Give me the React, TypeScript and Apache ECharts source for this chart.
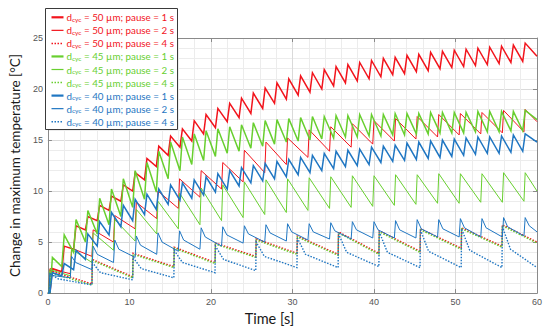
import React, { useEffect, useRef } from "react";
import * as echarts from "echarts";

// ---- cycle start times (s) ----
const tPause1 = [0.25, 1.7, 3.15, 4.6, 6.05, 7.5, 8.95, 10.4, 11.85, 13.3, 14.75, 16.2, 17.65, 19.1, 20.55, 22.0, 23.45, 24.9, 26.35, 27.8, 29.25, 30.7, 32.15, 33.6, 35.05, 36.5, 37.95, 39.4, 40.85, 42.3, 43.75, 45.2, 46.65, 48.1, 49.55, 51.0, 52.45, 53.9, 55.35, 56.8, 58.25];
const tPause2 = [0.1, 2.75, 5.4, 8.05, 10.7, 13.35, 16.0, 18.65, 21.3, 23.95, 26.6, 29.25, 31.9, 34.55, 37.2, 39.85, 42.5, 45.15, 47.8, 50.45, 53.1, 55.75, 58.4];
const tPause4 = [0.2, 5.4, 10.4, 15.45, 20.5, 25.5, 30.55, 35.6, 40.6, 45.65, 50.7, 55.7];
const tEnd = 60;

// ---- d_cyc = 50 µm ----
const r1Peak = [2.4, 4.6, 6.6, 7.5, 8.6, 9.5, 10.6, 11.8, 13.2, 14.4, 15.4, 16.1, 16.9, 17.5, 18.1, 18.6, 19.1, 19.6, 20.1, 20.6, 21.0, 21.3, 21.6, 21.9, 22.2, 22.4, 22.6, 22.8, 23.0, 23.1, 23.3, 23.4, 23.6, 23.7, 23.8, 23.9, 24.0, 24.1, 24.2, 24.3, 24.5];
const r1Trough = [2.1, 4.3, 6.2, 7.1, 8.1, 9.0, 10.0, 11.1, 12.4, 13.5, 14.3, 14.9, 15.6, 16.2, 16.8, 17.2, 17.6, 18.1, 18.6, 19.0, 19.4, 19.7, 20.0, 20.3, 20.6, 20.8, 21.0, 21.2, 21.4, 21.5, 21.7, 21.8, 22.0, 22.1, 22.2, 22.3, 22.4, 22.5, 22.6, 22.7, 23.2];
const r2Peak = [2.4, 4.4, 6.2, 7.6, 8.9, 10.0, 11.2, 12.0, 12.8, 14.0, 14.8, 15.2, 16.0, 16.3, 16.6, 16.9, 17.1, 17.3, 17.5, 17.6, 17.7, 17.9, 18.0];
const r2Trough = [1.9, 3.6, 5.0, 6.3, 7.3, 8.3, 9.4, 10.2, 10.9, 11.8, 12.6, 13.3, 13.9, 14.3, 14.6, 14.9, 15.1, 15.3, 15.5, 15.6, 15.7, 15.8, 16.8];
const r4Peak = [2.2, 3.3, 3.9, 4.5, 4.9, 5.3, 5.6, 6.0, 6.1, 6.3, 6.4, 6.7];
const r4Trough = [0.9, 1.6, 2.6, 3.0, 3.6, 3.9, 3.8, 3.9, 4.1, 4.4, 4.6, 5.0];

// ---- d_cyc = 45 µm ----
const g1Peak = [3.5, 5.7, 7.2, 8.1, 9.3, 10.2, 11.2, 12.0, 12.8, 13.9, 14.8, 15.3, 15.6, 15.9, 16.1, 16.3, 16.5, 16.7, 16.9, 17.0, 17.1, 17.2, 17.3, 17.3, 17.4, 17.4, 17.5, 17.5, 17.5, 17.6, 17.6, 17.6, 17.7, 17.7, 17.7, 17.7, 17.8, 17.8, 17.8, 17.8, 17.9];
const g1Trough = [2.6, 4.0, 5.0, 5.8, 6.7, 7.5, 8.4, 9.2, 9.9, 11.2, 12.0, 12.6, 13.0, 13.4, 13.7, 13.9, 14.2, 14.4, 14.6, 14.8, 14.9, 15.0, 15.1, 15.2, 15.3, 15.3, 15.4, 15.4, 15.5, 15.5, 15.6, 15.6, 15.7, 15.7, 15.7, 15.8, 15.8, 15.8, 15.9, 15.9, 17.0];
const g2Peak = [2.3, 4.3, 5.9, 7.2, 8.2, 9.0, 9.8, 10.3, 10.6, 10.9, 11.1, 11.2, 11.3, 11.4, 11.5, 11.5, 11.6, 11.6, 11.7, 11.7, 11.7, 11.8, 11.8];
const g2Trough = [1.7, 3.0, 4.2, 5.1, 5.8, 6.3, 6.7, 7.1, 7.4, 7.7, 7.9, 8.1, 8.3, 8.4, 8.5, 8.6, 8.7, 8.8, 8.8, 8.9, 8.9, 9.0, 10.0];
const g4Peak = [2.0, 3.2, 3.8, 4.4, 4.8, 5.2, 5.5, 5.9, 6.0, 6.2, 6.3, 6.6];
const g4Trough = [0.8, 1.5, 2.5, 2.9, 3.5, 3.8, 3.7, 3.8, 4.0, 4.3, 4.5, 4.9];

// ---- d_cyc = 40 µm ----
const b1Peak = [2.0, 2.9, 4.2, 5.8, 7.0, 7.9, 8.6, 9.2, 9.7, 10.2, 10.6, 10.8, 11.1, 11.4, 11.7, 12.0, 12.3, 12.5, 12.7, 12.9, 13.1, 13.3, 13.5, 13.7, 13.9, 14.0, 14.1, 14.3, 14.4, 14.5, 14.7, 14.8, 14.9, 15.0, 15.1, 15.2, 15.3, 15.3, 15.4, 15.5, 15.6];
const b1Trough = [1.7, 2.3, 3.3, 4.6, 5.7, 6.5, 7.1, 7.7, 8.2, 8.7, 9.1, 9.3, 9.6, 9.9, 10.2, 10.5, 10.8, 11.0, 11.2, 11.4, 11.6, 11.8, 12.0, 12.2, 12.4, 12.5, 12.6, 12.8, 12.9, 13.0, 13.1, 13.2, 13.3, 13.4, 13.5, 13.6, 13.7, 13.7, 13.8, 13.9, 14.8];
const b2Peak = [1.9, 3.6, 4.6, 5.2, 5.6, 5.9, 6.1, 6.4, 6.5, 6.6, 6.7, 6.8, 6.8, 6.9, 7.0, 7.0, 7.1, 7.2, 7.2, 7.3, 7.3, 7.4, 7.4];
const b2Knee = [1.7, 3.0, 3.8, 4.3, 4.7, 5.0, 5.2, 5.5, 5.7, 5.8, 5.9, 6.0, 6.0, 6.1, 6.2, 6.2, 6.2, 6.3, 6.3, 6.4, 6.4, 6.5, 6.6];
const b2Trough = [1.5, 2.3, 3.0, 3.5, 3.8, 4.1, 4.3, 4.6, 4.9, 5.0, 5.1, 5.2, 5.3, 5.3, 5.4, 5.4, 5.4, 5.5, 5.5, 5.5, 5.5, 5.6, 6.0];
const b4Peak = [1.9, 3.0, 3.5, 4.2, 4.6, 5.0, 5.4, 5.8, 6.0, 6.2, 6.3, 6.5];
const b4Knee = [1.4, 2.0, 2.4, 3.0, 3.3, 3.6, 3.8, 4.0, 4.0, 4.1, 4.2, 4.3];
const b4Trough = [0.8, 1.3, 1.5, 2.0, 2.2, 2.5, 2.5, 2.6, 2.5, 2.5, 2.5, 2.5];

const xTicks = [0, 10, 20, 30, 40, 50, 60];
const yTicks = [0, 5, 10, 15, 20, 25];

const RED = "#f2141c";
const GREEN = "#68cf2f";
const BLUE = "#1f76c2";

type Spec = {
  dcyc: number;
  pause: number;
  color: string;
  times: number[];
  peaks: number[];
  troughs: number[];
  knees?: number[];
};

const specs: Spec[] = [
  { dcyc: 50, pause: 1, color: RED, times: tPause1, peaks: r1Peak, troughs: r1Trough },
  { dcyc: 50, pause: 2, color: RED, times: tPause2, peaks: r2Peak, troughs: r2Trough },
  { dcyc: 50, pause: 4, color: RED, times: tPause4, peaks: r4Peak, troughs: r4Trough },
  { dcyc: 45, pause: 1, color: GREEN, times: tPause1, peaks: g1Peak, troughs: g1Trough },
  { dcyc: 45, pause: 2, color: GREEN, times: tPause2, peaks: g2Peak, troughs: g2Trough },
  { dcyc: 45, pause: 4, color: GREEN, times: tPause4, peaks: g4Peak, troughs: g4Trough },
  { dcyc: 40, pause: 1, color: BLUE, times: tPause1, peaks: b1Peak, troughs: b1Trough },
  { dcyc: 40, pause: 2, color: BLUE, times: tPause2, peaks: b2Peak, troughs: b2Trough, knees: b2Knee },
  { dcyc: 40, pause: 4, color: BLUE, times: tPause4, peaks: b4Peak, troughs: b4Trough, knees: b4Knee },
];

// style by pause duration
const riseByPause: Record<number, number> = { 1: 0.3, 2: 0.15, 4: 0.05 };
const kneeDtByPause: Record<number, number> = { 1: 0.3, 2: 0.5, 4: 1.0 };
const widthByPause: Record<number, number> = { 1: 1.5, 2: 1.0, 4: 1.4 };
const legendWidthByPause: Record<number, number> = { 1: 2.2, 2: 1.2, 4: 1.5 };

function buildPoints(s: Spec): number[][] {
  const pts: number[][] = [[0, 0]];
  const rise = riseByPause[s.pause];
  for (let i = 0; i < s.times.length; i++) {
    const start = s.times[i];
    const end = i + 1 < s.times.length ? s.times[i + 1] : tEnd;
    if (i === 0) pts.push([start, 0]);
    pts.push([start + rise, s.peaks[i]]);
    if (s.knees) pts.push([start + rise + kneeDtByPause[s.pause], s.knees[i]]);
    pts.push([end, s.troughs[i]]);
  }
  return pts;
}

const seriesName = (s: Spec) => `d_cyc = ${s.dcyc} µm; pause = ${s.pause} s`;

export default function App() {
  const ref = useRef<HTMLDivElement>(null);
  useEffect(() => {
    if (!ref.current) return;
    const chart = echarts.init(ref.current, null, { renderer: "svg" });
    const left = 42;
    const right = 13;
    const top = 38;
    const bottom = 32;
    const axisColor = "#8a8a8a";
    const labelStyle = { color: "#555", fontSize: 9, fontFamily: "Liberation Sans" };

    const series: any[] = specs.map((s) => ({
      name: seriesName(s),
      type: "line",
      data: buildPoints(s),
      showSymbol: false,
      symbol: "none",
      silent: true,
      clip: true,
      z: 2,
      xAxisIndex: 0,
      yAxisIndex: 0,
      lineStyle: {
        color: s.color,
        width: widthByPause[s.pause],
        type: s.pause === 4 ? [1.5, 1.5] : "solid",
        cap: "butt",
        join: "miter",
      },
      itemStyle: { color: s.color },
    }));

    // legend drawn as graphic elements
    const lgX = 45.5;
    const lgY = 8.5;
    const rowH = 13.05;
    const legendChildren: any[] = [
      {
        type: "rect",
        z: 100,
        shape: { x: lgX, y: lgY, width: 132, height: 121 },
        style: { fill: "#fff", stroke: "#3a3a3a", lineWidth: 1 },
      },
    ];
    specs.forEach((s, i) => {
      const cy = 17.3 + i * rowH;
      legendChildren.push({
        type: "line",
        z: 101,
        shape: { x1: 51.5, y1: cy, x2: 63.5, y2: cy },
        style: {
          stroke: s.color,
          lineWidth: legendWidthByPause[s.pause],
          lineDash: s.pause === 4 ? [1.5, 1.5] : null,
        },
      });
      legendChildren.push({
        type: "text",
        z: 101,
        x: 66.5,
        y: cy,
        style: {
          text: `{d|d}{s|cyc}{t| = ${s.dcyc} µm; pause = ${s.pause} s}`,
          verticalAlign: "middle",
          fill: s.color,
          rich: {
            d: { fontSize: 9.8, fontFamily: "Lato", fill: s.color, lineHeight: 11 },
            s: { fontSize: 6.5, fontFamily: "Lato", fill: s.color, lineHeight: 5.5, verticalAlign: "bottom" },
            t: { fontSize: 9.8, fontFamily: "Lato", fill: s.color, lineHeight: 11 },
          },
        },
      });
    });

    const baseX = {
      type: "value",
      min: xTicks[0],
      max: xTicks[xTicks.length - 1],
      interval: 10,
      axisLine: { show: true, onZero: false, lineStyle: { color: axisColor, width: 1 } },
      axisTick: { show: true, inside: true, length: 4, lineStyle: { color: axisColor } },
    };
    const baseY = {
      type: "value",
      min: yTicks[0],
      max: yTicks[yTicks.length - 1],
      interval: 5,
      axisLine: { show: true, onZero: false, lineStyle: { color: axisColor, width: 1 } },
      axisTick: { show: true, inside: true, length: 4, lineStyle: { color: axisColor } },
    };

    chart.setOption({
      animation: false,
      backgroundColor: "#fff",
      grid: { left, right, top, bottom, containLabel: false },
      xAxis: [
        {
          ...baseX,
          position: "bottom",
          name: "Time [s]",
          nameLocation: "middle",
          nameGap: 12,
          nameTextStyle: { fontSize: 14.5, fontFamily: "Lato", color: "#1a1a1a", padding: [0, 46, 0, 0], verticalAlign: "top" },
          axisLabel: { ...labelStyle, margin: 4 },
          splitLine: { show: true, lineStyle: { color: "#dadada", width: 1 } },
          minorTick: { show: false, splitNumber: 5 },
          minorSplitLine: { show: true, lineStyle: { color: "#ececec", width: 1 } },
        },
        {
          ...baseX,
          position: "top",
          axisLabel: { show: false },
          splitLine: { show: false },
        },
      ],
      yAxis: [
        {
          ...baseY,
          position: "left",
          name: "Change in maximum temperature [°C]",
          nameLocation: "middle",
          nameGap: 12,
          nameTextStyle: { fontSize: 13.5, fontFamily: "Lato", color: "#1a1a1a" },
          axisLabel: { ...labelStyle, margin: 5 },
          splitLine: { show: true, lineStyle: { color: "#dadada", width: 1 } },
          minorTick: { show: false, splitNumber: 5 },
          minorSplitLine: { show: true, lineStyle: { color: "#ececec", width: 1 } },
        },
        {
          ...baseY,
          position: "right",
          axisLabel: { show: false },
          splitLine: { show: false },
        },
      ],
      series,
      graphic: legendChildren,
    });
    return () => chart.dispose();
  }, []);
  return (
    <div
      ref={ref}
      style={{ position: "fixed", left: 0, top: 0, width: 550, height: 331, background: "#fff" }}
    />
  );
}
